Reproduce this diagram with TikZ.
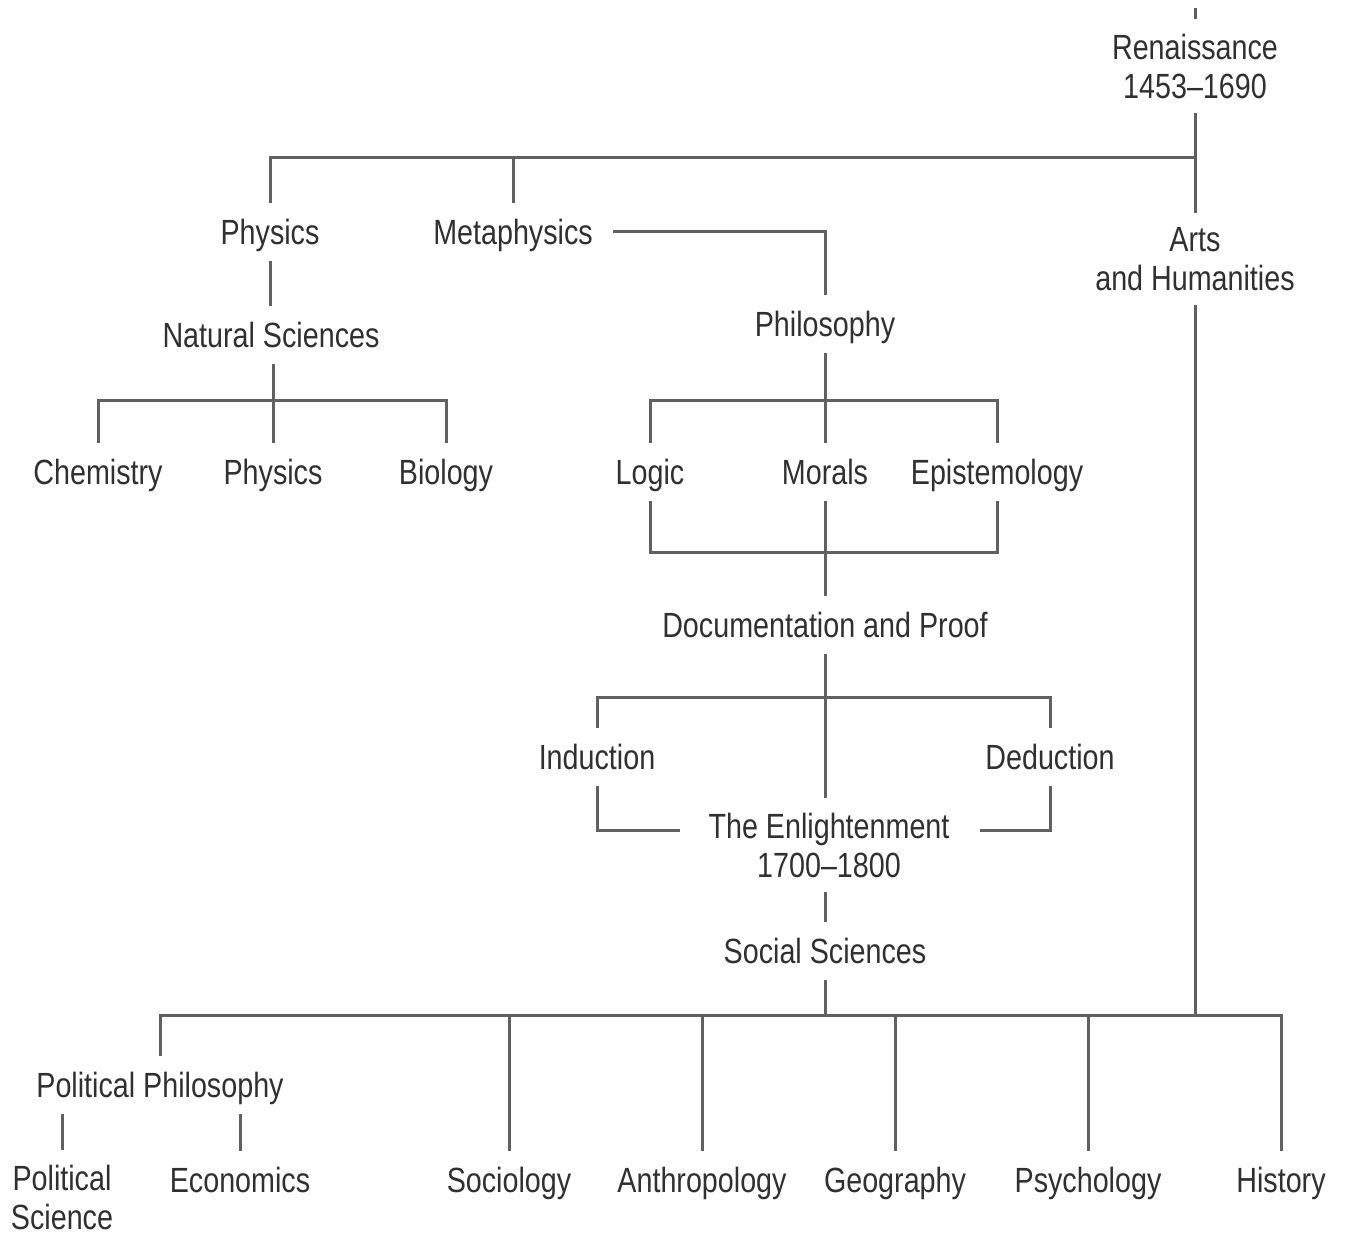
\documentclass[tikz,border=0pt]{standalone}
\usepackage{fontspec}
\setmainfont{Liberation Sans}[FakeStretch=0.82]
\usetikzlibrary{calc}
\definecolor{txt}{HTML}{303030}
\definecolor{ln}{HTML}{606060}
\begin{document}
\begin{tikzpicture}[x=0.5pt,y=-0.5pt,
  lbl/.style={inner xsep=10pt,inner ysep=7pt,text=txt,align=center,
    font=\fontsize{17.5}{19.5}\selectfont},
  one/.style={lbl,inner ysep=8pt,text height=12.7pt,text depth=0pt},
  conn/.style={draw=ln,line width=1.5pt}]
\useasboundingbox[fill=white] (0,0) rectangle (1351,1235);
% nodes
\node[lbl] (ren) at (1195,66) {Renaissance\\1453–1690};
\node[lbl] (arts) at (1195,259) {Arts\\and Humanities};
\node[one] (phys1) at (270,232) {Physics};
\node[one] (meta) at (513,232) {Metaphysics};
\node[one] (nat) at (271,335) {Natural Sciences};
\node[one] (chem) at (98,472) {Chemistry};
\node[one] (phys2) at (273,472) {Physics};
\node[one] (bio) at (446,472) {Biology};
\node[one] (phil) at (825,324) {Philosophy};
\node[one] (logic) at (650,472) {Logic};
\node[one] (morals) at (825,472) {Morals};
\node[one] (epi) at (997,472) {Epistemology};
\node[one] (doc) at (825,625) {Documentation and Proof};
\node[one] (ind) at (597,757) {Induction};
\node[one] (ded) at (1050,757) {Deduction};
\node[lbl] (enl) at (829,845) {The Enlightenment\\1700–1800};
\node[one] (soc) at (825,951) {Social Sciences};
\node[one] (pp) at (160,1085) {Political Philosophy};
\node[lbl] (polsci) at (62,1197) {Political\\Science};
\node[one] (econ) at (240,1180) {Economics};
\node[one] (socio) at (509,1180) {Sociology};
\node[one] (anth) at (702,1180) {Anthropology};
\node[one] (geo) at (895,1180) {Geography};
\node[one] (psy) at (1088,1180) {Psychology};
\node[one] (hist) at (1281,1180) {History};
% junctions
\coordinate (rtop) at (1195,8);
\coordinate (topbar) at (1195,158);
\coordinate (nsbar) at (273,401);
\coordinate (phbar) at (825,401);
\coordinate (lmbar) at (825,553);
\coordinate (dpbar) at (825,698);
\coordinate (ssbar) at (825,1015);
% connectors
\draw[conn] (rtop) -- (ren.north);
\draw[conn] (ren.south) -- (arts.north);
\draw[conn] (phys1.north) |- (topbar);
\draw[conn] (meta.north) -- (meta.north |- topbar);
\draw[conn] (phys1.south) -- (phys1.south |- nat.north);
\draw[conn] (phys2.north |- nat.south) -- (phys2.north);
\draw[conn] (chem.north) |- (nsbar) -| (bio.north);
\draw[conn] (meta.east) -| (phil.north);
\draw[conn] (phil.south) -- (morals.north);
\draw[conn] (logic.north) |- (phbar) -| (epi.north);
\draw[conn] (logic.south) |- (lmbar) -| (epi.south);
\draw[conn] (morals.south) -- (doc.north);
\draw[conn] (doc.south) -- (doc.south |- enl.north);
\draw[conn] (ind.north) |- (dpbar) -| (ded.north);
\draw[conn] (ind.south) |- ($(enl.west)+(-8,-15)$);
\draw[conn] (ded.south) |- ($(enl.east)+(10,-15)$);
\draw[conn] (soc.north |- enl.south) -- (soc.north);
\draw[conn] (soc.south) -- (ssbar);
\draw[conn] (arts.south) -- (arts.south |- ssbar);
\draw[conn] (pp.north) |- (ssbar) -| (hist.north);
\draw[conn] (socio.north) -- (socio.north |- ssbar);
\draw[conn] (anth.north) -- (anth.north |- ssbar);
\draw[conn] (geo.north) -- (geo.north |- ssbar);
\draw[conn] (psy.north) -- (psy.north |- ssbar);
\draw[conn] (polsci.north |- pp.south) -- (polsci.north);
\draw[conn] (econ.north |- pp.south) -- (econ.north);
\end{tikzpicture}
\end{document}
